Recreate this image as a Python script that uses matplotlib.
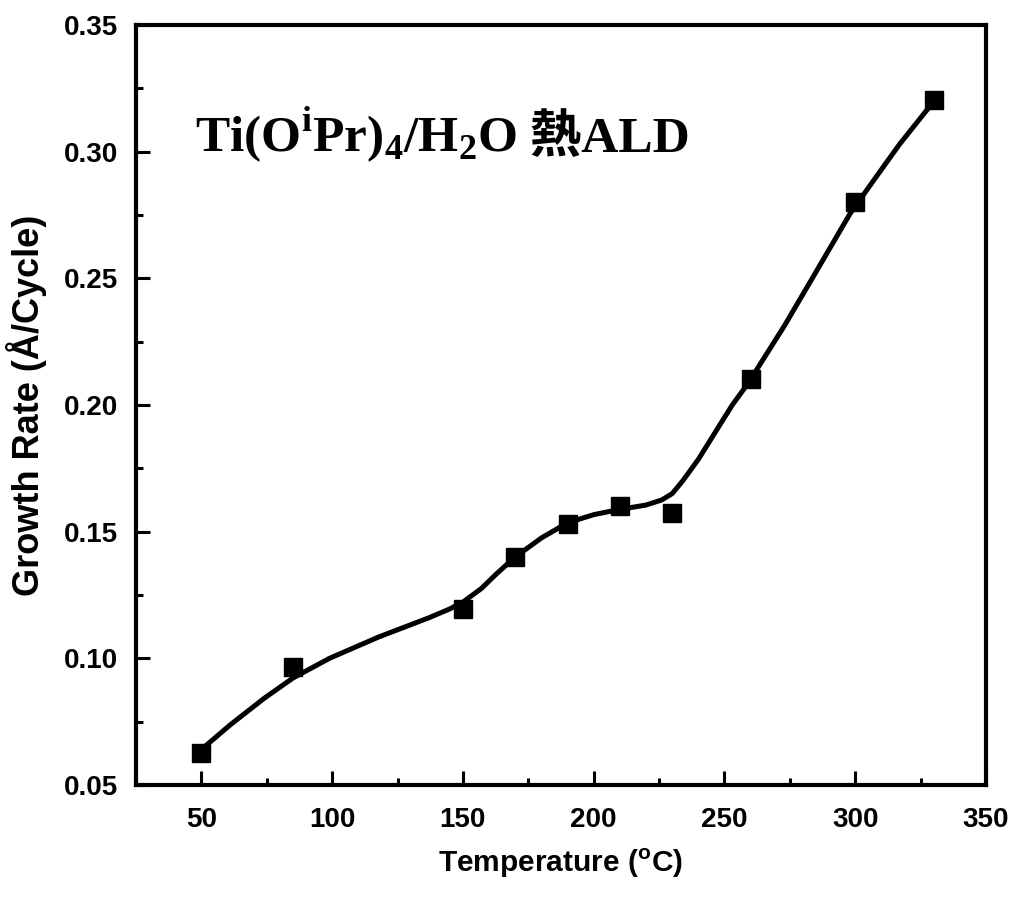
import numpy as np
import matplotlib
matplotlib.use("Agg")
import matplotlib.pyplot as plt
from matplotlib.ticker import MultipleLocator

# measured growth rate per cycle
temps = [50, 85, 150, 170, 190, 210, 230, 260, 300, 330]
rates = [0.0626, 0.0967, 0.1194, 0.1401, 0.1530, 0.1601, 0.1572, 0.2101, 0.2800, 0.3204]

# smooth guide line
curve_x = [50, 61, 74, 85, 99, 118, 137, 145, 150, 157, 163, 170, 180, 190, 200, 210,
           220, 226, 230, 234, 240, 247, 253, 259, 273, 285, 298, 307, 317, 329, 330]
curve_y = [0.0640, 0.0737, 0.0842, 0.0922, 0.1000, 0.1085, 0.1160, 0.1195, 0.1222,
           0.1275, 0.1335, 0.1400, 0.1475, 0.1535, 0.1567, 0.1588, 0.1605, 0.1625,
           0.1650, 0.1700, 0.1785, 0.1901, 0.2000, 0.2085, 0.2314, 0.2525, 0.2755,
           0.2886, 0.3030, 0.3185, 0.3200]

plt.rcParams['mathtext.fontset'] = 'custom'
plt.rcParams['mathtext.rm'] = 'Liberation Serif:bold'
plt.rcParams['mathtext.sf'] = 'Liberation Sans:bold'

fig = plt.figure(figsize=(10.17, 8.97), dpi=100)
ax = fig.add_axes([0.1337, 0.1249, 0.8358, 0.8472])

ax.plot(curve_x, curve_y, color='black', lw=3.6, solid_capstyle='round',
        solid_joinstyle='round')
ax.plot(temps, rates, 's', color='black', ms=13.5, ls='none')

ax.set_xlim(25, 350)
ax.set_ylim(0.05, 0.35)
ax.xaxis.set_minor_locator(MultipleLocator(25))
ax.yaxis.set_minor_locator(MultipleLocator(0.025))
ax.set_xticks([50, 100, 150, 200, 250, 300, 350])
ax.set_yticks([0.05, 0.10, 0.15, 0.20, 0.25, 0.30, 0.35])
ax.set_yticklabels(['0.05', '0.10', '0.15', '0.20', '0.25', '0.30', '0.35'])

ax.tick_params(which='both', direction='in', top=False, right=False, width=2.2)
ax.tick_params(which='major', length=10)
ax.tick_params(which='minor', length=5)
ax.tick_params(axis='x', which='major', pad=16)
ax.tick_params(axis='y', which='major', pad=13)
for lab in ax.get_xticklabels() + ax.get_yticklabels():
    lab.set_fontfamily('Liberation Sans')
    lab.set_fontweight('bold')
    lab.set_fontsize(20)

for sp in ax.spines.values():
    sp.set_linewidth(3)

ax.set_xlabel(r'Temperature ($^{\mathsf{o}}$C)', fontfamily='Liberation Sans',
              fontweight='bold', fontsize=21.5, labelpad=10)
ax.set_ylabel('Growth Rate (Å/Cycle)', fontfamily='Liberation Sans',
              fontweight='bold', fontsize=26, labelpad=12)

# annotation inside the plot: latin part in Times-like serif, 熱 from CJK font
t1 = ax.text(0.069, 0.833, r'Ti(O$^{\mathrm{i}}$Pr)$_{4}$/H$_{2}$O', transform=ax.transAxes,
             fontfamily='Liberation Serif', fontweight='bold', fontsize=37, va='baseline')
fig.canvas.draw()
bb = t1.get_window_extent()
x_end = ax.transAxes.inverted().transform((bb.x1, bb.y0))[0]
ax.text(x_end, 0.833, ' 熱ALD', transform=ax.transAxes,
        fontfamily=['Liberation Serif', 'Noto Sans CJK TC'], fontweight='bold',
        fontsize=37, va='baseline')

fig.savefig('out.png', dpi=100)
